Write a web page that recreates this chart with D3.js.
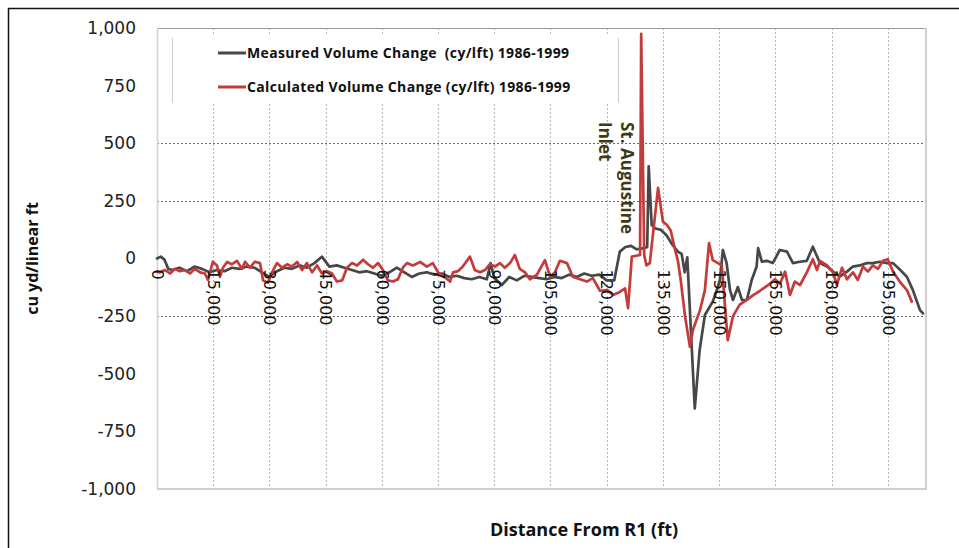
<!DOCTYPE html>
<html>
<head>
<meta charset="utf-8">
<script src="https://cdn.jsdelivr.net/npm/d3@7"></script>
<style>
  html, body { margin: 0; padding: 0; background: #fff; }
  svg { display: block; }
</style>
</head>
<body>
<svg id="chart" width="959" height="548"></svg>
<script>
// Measured volume change along the shoreline (distance from R1, ft -> cy/lft)
const measuredDist = [0, 1000, 2000, 3000, 4000, 6000, 8000, 10000, 12000, 14000, 16000, 18000, 20000, 22000, 24000, 26000, 28000, 30000, 32000, 34000, 36000, 38000, 40000, 42000, 44000, 46000, 48000, 50000, 52000, 54000, 56000, 58000, 60000, 62000, 64000, 66000, 68000, 70000, 72000, 74000, 76000, 78000, 80000, 82000, 84000, 86000, 88000, 89000, 90000, 92000, 94000, 96000, 98000, 100000, 102000, 104000, 106000, 108000, 110000, 112000, 114000, 116000, 118000, 120000, 122000, 123500, 125000, 126500, 128000, 130000, 130800, 131200, 132000, 133000, 134500, 136000, 137500, 139000, 140000, 140800, 141500, 143500, 144800, 146200, 147300, 148300, 149400, 150200, 151000, 152000, 152900, 153700, 155000, 156100, 157400, 158700, 160000, 160400, 161400, 162700, 164300, 166200, 168100, 169700, 171500, 173400, 175000, 176900, 178800, 180400, 182200, 184100, 185700, 187500, 189400, 191000, 192900, 194800, 196400, 198200, 200100, 201700, 203600, 204400];
const measuredVol = [0, 8, -5, -45, -50, -40, -55, -35, -45, -60, -50, -55, -40, -45, -35, -40, -60, -80, -55, -40, -45, -30, -40, -20, 8, -35, -30, -40, -50, -60, -55, -65, -75, -60, -40, -60, -80, -65, -60, -70, -65, -80, -75, -85, -90, -80, -90, -20, -85, -115, -80, -95, -75, -80, -85, -90, -80, -85, -70, -80, -65, -75, -70, -95, -95, 30, 50, 55, 40, 45, 50, 400, 145, 130, 124, 100, 60, 30, 20, -60, 5, -650, -397, -245, -215, -187, -137, -93, 37, -20, -137, -180, -124, -180, -180, -93, -35, 45, -14, -10, -20, 37, 30, -20, -14, -10, 51, -20, -35, -57, -79, -57, -35, -30, -20, -20, -14, -20, -20, -48, -79, -137, -224, -238];

// Calculated volume change
const calcDist = [0, 800, 2100, 3500, 4800, 6100, 7500, 8800, 10100, 11500, 12800, 13600, 14900, 16000, 16800, 17600, 18700, 20000, 21300, 22700, 23500, 24800, 26100, 27500, 28300, 29600, 30700, 32000, 33400, 34700, 36000, 37400, 38700, 40000, 41400, 42700, 44000, 45400, 46700, 48000, 49400, 50700, 52000, 53400, 55000, 56300, 57600, 59000, 60300, 61600, 63000, 64300, 65600, 66700, 68300, 70200, 72000, 73600, 75000, 76300, 78200, 79000, 80300, 81600, 83500, 84800, 86200, 87500, 88800, 90200, 91500, 92800, 94200, 95500, 96800, 98200, 99500, 101400, 103500, 104900, 106200, 107500, 109400, 111000, 112900, 114700, 116300, 118200, 120100, 121700, 123500, 124900, 125700, 126700, 128900, 129200, 130000, 130600, 131500, 133700, 135000, 136100, 137100, 138200, 139000, 139800, 140900, 142200, 143000, 144900, 146200, 147300, 148300, 149700, 150700, 152300, 153700, 155500, 157400, 159000, 160900, 162200, 163500, 164900, 166200, 167600, 168900, 170200, 171600, 173400, 175000, 176100, 176900, 178800, 180400, 181400, 182800, 184100, 185700, 187000, 188400, 189700, 191000, 192400, 193700, 195000, 196400, 198200, 200100, 201400];
const calcVol = [-57, -60, -50, -65, -45, -55, -50, -65, -45, -60, -65, -93, -14, -30, -80, -40, -15, -25, -10, -45, -14, -40, -14, -20, -95, -105, -60, -20, -40, -25, -35, -15, -50, -20, -60, -30, -65, -55, -65, -100, -95, -40, -20, -30, -5, -25, -40, -20, -50, -95, -100, -90, -40, -20, -30, -15, -35, -20, -60, -75, -100, -60, -55, -35, 8, -50, -60, -50, -25, -35, -20, -40, -20, 15, -45, -60, -90, -70, -7, -79, -60, -10, -20, -80, -90, -100, -85, -140, -137, -158, -145, -130, -215, 8, 15, 975, 15, -30, -20, 306, 160, 145, 120, 40, -10, -100, -250, -383, -310, -224, -137, 67, -7, -20, -30, -354, -250, -200, -180, -160, -140, -125, -110, -90, -110, -57, -158, -100, -115, -60, -3, -50, -10, -30, -60, -115, -40, -90, -60, -93, -35, -57, -30, -45, -10, -3, -57, -100, -137, -187];

const xTicks = [0, 15000, 30000, 45000, 60000, 75000, 90000, 105000, 120000, 135000, 150000, 165000, 180000, 195000];
const yTicks = [-1000, -750, -500, -250, 0, 250, 500, 750, 1000];
const yGridValues = [500, 250, -250];
const seriesNames = ["Measured Volume Change  (cy/lft) 1986-1999", "Calculated Volume Change (cy/lft) 1986-1999"];
const seriesColors = ["#474747", "#c43b3b"];

const svg = d3.select("#chart");
const plot = { left: 157, right: 926, top: 28, bottom: 489 };
const titleFont = "'Open Sans', Lato, sans-serif";
const tickFont = "'DejaVu Sans', Verdana, sans-serif";
const fmt = d => d3.format(",")(d).replace("\u2212", "-");

const x = d3.scaleLinear().domain([0, 205200]).range([plot.left, plot.right]);
const y = d3.scaleLinear().domain([-1000, 1000]).range([plot.bottom, plot.top]);

// outer frame (left and top edges)
svg.append("line").attr("x1", 8.5).attr("x2", 8.5).attr("y1", 8).attr("y2", 548)
  .attr("stroke", "#111").attr("stroke-width", 1.5);
svg.append("line").attr("x1", 8).attr("x2", 959).attr("y1", 8.5).attr("y2", 8.5)
  .attr("stroke", "#111").attr("stroke-width", 1.5);

// vertical dotted gridlines
svg.append("g").selectAll("line").data(xTicks.filter(d => d > 0)).join("line")
  .attr("x1", d => Math.round(x(d)) + 0.5).attr("x2", d => Math.round(x(d)) + 0.5)
  .attr("y1", plot.top).attr("y2", plot.bottom)
  .attr("stroke", "#b8b8b8").attr("stroke-width", 1).attr("stroke-dasharray", "2,2");

// horizontal dotted gridlines
svg.append("g").selectAll("line").data(yGridValues).join("line")
  .attr("x1", plot.left).attr("x2", plot.right)
  .attr("y1", d => Math.round(y(d)) + 0.5).attr("y2", d => Math.round(y(d)) + 0.5)
  .attr("stroke", "#6a6a6a").attr("stroke-width", 1).attr("stroke-dasharray", "2,2");

// plot area border
svg.append("line").attr("x1", plot.left).attr("x2", plot.right).attr("y1", plot.top + 0.5).attr("y2", plot.top + 0.5)
  .attr("stroke", "#9a9a9a").attr("stroke-width", 1);
svg.append("line").attr("x1", plot.left + 0.5).attr("x2", plot.left + 0.5).attr("y1", plot.top).attr("y2", plot.bottom)
  .attr("stroke", "#d4d4d4").attr("stroke-width", 1.5);
svg.append("line").attr("x1", plot.right).attr("x2", plot.right).attr("y1", plot.top).attr("y2", plot.bottom + 1)
  .attr("stroke", "#cfcfcf").attr("stroke-width", 2);
svg.append("line").attr("x1", plot.left).attr("x2", plot.right + 1).attr("y1", plot.bottom).attr("y2", plot.bottom)
  .attr("stroke", "#cfcfcf").attr("stroke-width", 2);

// legend box
const legend = svg.append("g");
legend.append("rect").attr("x", 172).attr("y", 36).attr("width", 447).attr("height", 67).attr("fill", "#fff");
legend.append("line").attr("x1", 172.5).attr("x2", 172.5).attr("y1", 38).attr("y2", 103).attr("stroke", "#cccccc");
legend.append("line").attr("x1", 618.5).attr("x2", 618.5).attr("y1", 38).attr("y2", 103).attr("stroke", "#cccccc");
const legendRows = [53, 87];
seriesNames.forEach((name, i) => {
  legend.append("line").attr("x1", 218).attr("x2", 246).attr("y1", legendRows[i]).attr("y2", legendRows[i])
    .attr("stroke", seriesColors[i]).attr("stroke-width", 3);
  legend.append("text").attr("x", 247).attr("y", legendRows[i]).attr("dy", "0.36em")
    .style("white-space", "pre").attr("letter-spacing", 0.35)
    .attr("font-family", titleFont).attr("font-weight", "bold").attr("font-size", 14)
    .attr("fill", "#111").text(name);
});

// data lines
const line = d3.line().x(d => x(d[0])).y(d => y(d[1]));
const measured = measuredDist.map((d, i) => [d, measuredVol[i]]);
const calculated = calcDist.map((d, i) => [d, calcVol[i]]);
[measured, calculated].forEach((series, i) => {
  svg.append("path").datum(series).attr("d", line)
    .attr("fill", "none").attr("stroke", seriesColors[i]).attr("stroke-width", 2.7)
    .attr("stroke-linejoin", "round").attr("stroke-linecap", "round");
});

// y axis labels
const yAxis = svg.append("g").attr("transform", `translate(${plot.left},0)`)
  .call(d3.axisLeft(y).tickValues(yTicks).tickFormat(fmt).tickSize(0).tickPadding(21));
yAxis.select(".domain").remove();
yAxis.selectAll("text").attr("font-family", tickFont).attr("font-size", 17).attr("fill", "#222");

// x axis labels, rotated, hanging from the zero line
const xAxis = svg.append("g").attr("transform", `translate(0,${y(0)})`)
  .call(d3.axisBottom(x).tickValues(xTicks).tickFormat(fmt).tickSize(0));
xAxis.select(".domain").remove();
xAxis.selectAll("text")
  .attr("transform", "rotate(90)").attr("x", 11).attr("y", 0).attr("dy", "0.36em")
  .style("text-anchor", "start")
  .attr("font-family", tickFont).attr("font-size", 16).attr("fill", "#111");

// inlet annotation
const note = svg.append("g").attr("font-family", titleFont).attr("font-weight", "bold")
  .attr("font-size", 17).attr("fill", "#3d3b16");
[["St. Augustine", 627], ["Inlet", 605]].forEach(([t, cx]) => {
  note.append("text").attr("transform", `translate(${cx},122) rotate(90)`).attr("dy", "0.36em").text(t);
});

// axis titles
svg.append("text").attr("transform", `translate(32,${(plot.top + plot.bottom) / 2}) rotate(-90)`)
  .attr("text-anchor", "middle").attr("dy", "0.36em")
  .attr("font-family", titleFont).attr("font-weight", "bold").attr("font-size", 16)
  .attr("fill", "#111").text("cu yd/linear ft");
svg.append("text").attr("x", 584).attr("y", 536)
  .attr("text-anchor", "middle")
  .attr("font-family", titleFont).attr("font-weight", "bold").attr("font-size", 18)
  .attr("fill", "#111").text("Distance From R1 (ft)");
</script>
</body>
</html>
